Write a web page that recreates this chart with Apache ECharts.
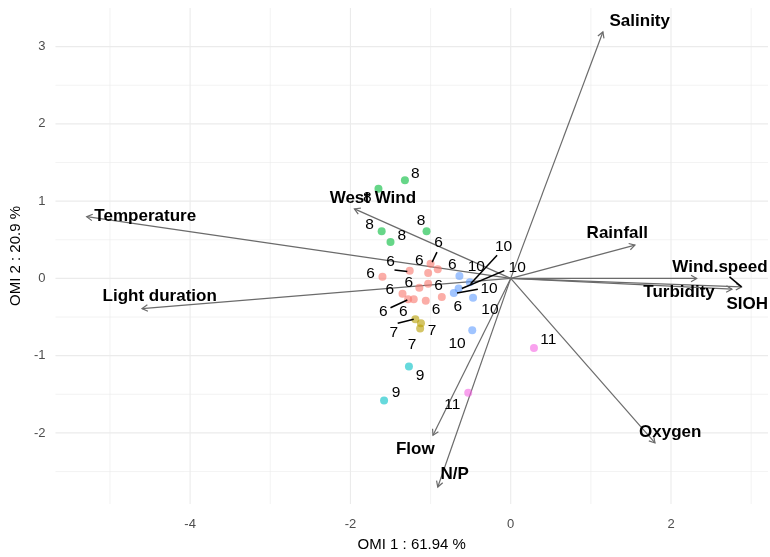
<!DOCTYPE html>
<html>
<head>
<meta charset="utf-8">
<script src="https://cdn.jsdelivr.net/npm/echarts@6/dist/echarts.min.js"></script>
<style>
html,body{margin:0;padding:0;background:#fff;}
#chart{width:770px;height:557px;}
</style>
</head>
<body>
<div id="chart"></div>
<script>
// ---------------- DATA ----------------
const groupNames = ['6', '7', '8', '9', '10', '11'];

// sample scores (OMI1, OMI2) per group
const points6 = [[-1.00,0.19],[-0.91,0.12],[-1.03,0.07],[-1.26,0.10],[-1.60,0.02],[-1.03,-0.07],
                 [-1.14,-0.12],[-1.35,-0.20],[-1.28,-0.27],[-1.21,-0.27],[-1.06,-0.29],[-0.86,-0.24]];
const points7 = [[-1.19,-0.53],[-1.12,-0.58],[-1.13,-0.65]];
const points8 = [[-1.32,1.27],[-1.65,1.16],[-1.61,0.61],[-1.50,0.47],[-1.05,0.61]];
const points9 = [[-1.27,-1.14],[-1.58,-1.58]];
const points10 = [[-0.64,0.03],[-0.51,-0.05],[-0.65,-0.13],[-0.71,-0.19],[-0.47,-0.25],[-0.48,-0.67]];
const points11 = [[0.29,-0.90],[-0.53,-1.48]];

// repelled label anchors per group
const labels6 = [[-0.90,0.46],[-1.50,0.21],[-1.14,0.23],[-0.73,0.18],[-1.75,0.06],[-1.27,-0.06],
                 [-0.90,-0.10],[-1.51,-0.15],[-0.66,-0.37],[-1.59,-0.43],[-1.34,-0.43],[-0.93,-0.40]];
const labels7 = [[-1.46,-0.70],[-0.98,-0.68],[-1.23,-0.86]];
const labels8 = [[-1.19,1.36],[-1.79,1.04],[-1.76,0.69],[-1.36,0.55],[-1.12,0.75]];
const labels9 = [[-1.13,-1.26],[-1.43,-1.48]];
const labels10 = [[-0.09,0.41],[-0.43,0.15],[0.08,0.14],[-0.27,-0.13],[-0.26,-0.40],[-0.67,-0.84]];
const labels11 = [[0.47,-0.79],[-0.73,-1.64]];

// label leader segments [x1,y1,x2,y2]
const leaders = [[-0.92,0.34,-0.98,0.21],[-1.45,0.11,-1.29,0.09],[-1.50,-0.38,-1.29,-0.28],
                 [-1.41,-0.58,-1.21,-0.53],
                 [-0.17,0.30,-0.50,-0.07],[-0.08,0.10,-0.61,-0.13],[-0.41,-0.14,-0.67,-0.19],
                 [2.73,0.02,2.88,-0.11]];

// variable loadings (arrows)
const varNames = ['Salinity','Rainfall','Wind.speed','Turbidity','SIOH','Oxygen','N/P','Flow','Light duration','Temperature','West Wind'];
const varX = [1.15, 1.55, 2.32, 2.76, 2.88, 1.80, -0.91, -0.97, -4.60, -5.29, -1.95];
const varY = [3.19, 0.43, 0.00, -0.14, -0.11, -2.13, -2.70, -2.03, -0.39, 0.80, 0.90];
// variable label positions
const varLabX = [1.61, 1.33, 2.61, 2.10, 2.95, 1.99, -0.70, -1.19, -4.38, -4.56, -1.72];
const varLabY = [3.33, 0.58, 0.14, -0.18, -0.33, -1.99, -2.54, -2.21, -0.23, 0.80, 1.04];

// axes
const xTickLabels = [-4, -2, 0, 2];
const yTickLabels = [-2, -1, 0, 1, 2, 3];
const xMajorGrid = [-4, -2, 0, 2];
const xMinorGrid = [-5, -3, -1, 1, 3];
const yMajorGrid = [-2, -1, 0, 1, 2, 3];
const yMinorGrid = [-2.5, -1.5, -0.5, 0.5, 1.5, 2.5];
const xTitle = 'OMI 1 : 61.94 %';
const yTitle = 'OMI 2 : 20.9 %';

// ---------------- CHART ----------------
const X_MIN = -5.68, X_MAX = 3.21, Y_MIN = -2.92, Y_MAX = 3.50;
const FONT = '"Liberation Sans", Arial, sans-serif';
const palette = ['#F8766D', '#B79F00', '#00BA38', '#00BFC4', '#619CFF', '#F564E3'];
const pointSets = [points6, points7, points8, points9, points10, points11];
const labelSets = [labels6, labels7, labels8, labels9, labels10, labels11];

const chart = echarts.init(document.getElementById('chart'), null, {renderer: 'canvas'});

function gridSeries(values, vertical, width) {
  return {
    type: 'custom', silent: true, z: 0,
    data: values.map(v => [v]),
    encode: vertical ? {x: 0} : {y: 0},
    renderItem: function (params, api) {
      const v = api.value(0);
      const a = vertical ? api.coord([v, Y_MIN]) : api.coord([X_MIN, v]);
      const b = vertical ? api.coord([v, Y_MAX]) : api.coord([X_MAX, v]);
      return {type: 'line', shape: {x1: a[0], y1: a[1], x2: b[0], y2: b[1]},
              style: {stroke: '#ebebeb', lineWidth: width}};
    }
  };
}

const series = [
  gridSeries(xMinorGrid, true, 0.6),
  gridSeries(yMinorGrid, false, 0.6),
  gridSeries(xMajorGrid, true, 1.1),
  gridSeries(yMajorGrid, false, 1.1)
];

// arrows
series.push({
  type: 'custom', silent: true, z: 2,
  data: varX.map((x, i) => [x, varY[i]]),
  renderItem: function (params, api) {
    const p0 = api.coord([0, 0]);
    const p1 = api.coord([api.value(0), api.value(1)]);
    const dx = p1[0] - p0[0], dy = p1[1] - p0[1];
    const len = Math.sqrt(dx * dx + dy * dy);
    const ux = dx / len, uy = dy / len;
    const L = 6.5, ang = Math.PI / 6;
    const c = Math.cos(ang), s = Math.sin(ang);
    const w1 = [p1[0] - L * (ux * c - uy * s), p1[1] - L * (ux * s + uy * c)];
    const w2 = [p1[0] - L * (ux * c + uy * s), p1[1] - L * (-ux * s + uy * c)];
    return {
      type: 'group',
      children: [
        {type: 'line', shape: {x1: p0[0], y1: p0[1], x2: p1[0], y2: p1[1]},
         style: {stroke: '#6b6b6b', lineWidth: 1.2}},
        {type: 'polyline', shape: {points: [w1, p1, w2]},
         style: {stroke: '#6b6b6b', lineWidth: 1.2, fill: null}}
      ]
    };
  }
});

// points
groupNames.forEach((g, i) => {
  series.push({
    type: 'scatter', name: g, z: 3,
    data: pointSets[i],
    symbolSize: 8,
    itemStyle: {color: palette[i], opacity: 0.6},
    silent: true
  });
});

// leader segments
series.push({
  type: 'custom', silent: true, z: 4,
  data: leaders,
  renderItem: function (params, api) {
    const a = api.coord([api.value(0), api.value(1)]);
    const b = api.coord([api.value(2), api.value(3)]);
    return {type: 'line', shape: {x1: a[0], y1: a[1], x2: b[0], y2: b[1]},
            style: {stroke: '#000', lineWidth: 1.5}};
  }
});

// group labels
const groupLabelData = [];
groupNames.forEach((g, i) => labelSets[i].forEach(p => groupLabelData.push([p[0], p[1], g])));
series.push({
  type: 'custom', silent: true, z: 5,
  data: groupLabelData,
  renderItem: function (params, api) {
    const p = api.coord([api.value(0), api.value(1)]);
    return {type: 'text', style: {x: p[0], y: p[1], text: groupLabelData[params.dataIndex][2],
            fill: '#000', font: '15.5px ' + FONT, align: 'center', verticalAlign: 'middle'}};
  }
});

// variable labels
series.push({
  type: 'custom', silent: true, z: 6,
  data: varLabX.map((x, i) => [x, varLabY[i]]),
  renderItem: function (params, api) {
    const p = api.coord([api.value(0), api.value(1)]);
    return {type: 'text', style: {x: p[0], y: p[1], text: varNames[params.dataIndex],
            fill: '#000', font: 'bold 17px ' + FONT, align: 'center', verticalAlign: 'middle'}};
  }
});

chart.setOption({
  animation: false,
  backgroundColor: '#ffffff',
  grid: {left: 53, right: 2, top: 8, bottom: 47, containLabel: false},
  xAxis: {
    type: 'value', min: X_MIN, max: X_MAX,
    axisLine: {show: false}, axisTick: {show: false}, splitLine: {show: false},
    axisLabel: {customValues: xTickLabels, color: '#4d4d4d', fontSize: 13, fontFamily: FONT, margin: 14},
    name: xTitle, nameLocation: 'middle', nameGap: 33,
    nameTextStyle: {color: '#000', fontSize: 15, fontFamily: FONT}
  },
  yAxis: {
    type: 'value', min: Y_MIN, max: Y_MAX,
    axisLine: {show: false}, axisTick: {show: false}, splitLine: {show: false},
    axisLabel: {customValues: yTickLabels, color: '#4d4d4d', fontSize: 13, fontFamily: FONT, margin: 10},
    name: yTitle, nameLocation: 'middle', nameGap: 24, nameRotate: 90,
    nameTextStyle: {color: '#000', fontSize: 15, fontFamily: FONT}
  },
  series: series
});
</script>
</body>
</html>
